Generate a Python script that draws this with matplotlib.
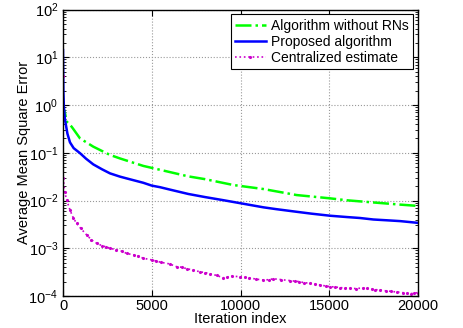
import numpy as np
import matplotlib
matplotlib.use('Agg')
import matplotlib.pyplot as plt
import matplotlib.ticker as ticker

plt.rcParams['font.family'] = ['Liberation Sans', 'DejaVu Sans']
plt.rcParams['mathtext.default'] = 'regular'

# ---------------- data ----------------
it_norn = [0, 50, 113, 208, 490, 958, 1708, 2648, 3211, 4524, 5465, 7060, 8000,
           9594, 11286, 13164, 15042, 16000, 17484, 19000, 20000]
mse_norn = [1.2, 0.8, 0.68, 0.45, 0.35, 0.2, 0.134, 0.09, 0.076, 0.053, 0.044, 0.032, 0.028,
            0.0211, 0.0174, 0.013, 0.0111, 0.0101, 0.0091, 0.0082, 0.0077]

it_prop = [0, 20, 50, 113, 250, 394, 600, 958, 1300, 1708, 2200, 2648, 3211, 3587, 4524,
           5000, 5465, 6000, 7060, 8000, 9000, 9972, 11286, 12000, 13164, 14000, 15042,
           16000, 16732, 17484, 18500, 19000, 20000]
mse_prop = [14, 2.0, 0.9, 0.49, 0.25, 0.165, 0.125, 0.098, 0.075, 0.057, 0.045, 0.037, 0.0316,
            0.029, 0.0235, 0.0205, 0.019, 0.017, 0.0137, 0.0118, 0.0102, 0.0088, 0.0072,
            0.0066, 0.0058, 0.0053, 0.0048, 0.0045, 0.0043, 0.0040, 0.0038, 0.0037, 0.0034]

it_cent = [0, 10, 100, 208, 394, 582, 772, 1000, 1335, 1600, 1899, 2200, 2450, 2648, 3000,
           3300, 3587, 4000, 4250, 4500, 5000, 5250, 5500, 6000, 6404, 6700, 7000, 7350,
           7718, 8000, 8300, 8650, 9031, 9250, 9500, 9972, 10250, 10500, 10900, 11286,
           11600, 11850, 12300, 12789, 13050, 13300, 13600, 13916, 14200, 14500, 14800,
           15042, 15300, 15600, 15900, 16169, 16500, 16920, 17150, 17400, 17600, 17859,
           18200, 18500, 18800, 19174, 19400, 19600, 19800, 20000]
mse_cent = [4.0, 0.03, 0.015, 0.0102, 0.0063, 0.0043, 0.0033, 0.0026, 0.0019, 0.0015,
            0.00127, 0.00113, 0.00106, 0.001, 0.00093, 0.00087, 0.00078, 0.00072, 0.00069,
            0.00062, 0.00057, 0.00054, 0.00051, 0.00047, 0.00041, 0.00040, 0.00037, 0.00035,
            0.00032, 0.00031, 0.00029, 0.00027, 0.00024, 0.00025, 0.00026, 0.000254,
            0.000245, 0.00024, 0.000225, 0.000216, 0.00022, 0.00023, 0.00022, 0.00021,
            0.000205, 0.0002, 0.00019, 0.000185, 0.000178, 0.00017, 0.000162, 0.000157,
            0.000155, 0.00015, 0.000147, 0.000145, 0.000143, 0.000148, 0.000144, 0.00014,
            0.000136, 0.000133, 0.000128, 0.000125, 0.000121, 0.000117, 0.000113, 0.000112,
            0.000115, 0.000118]

# ---------------- figure ----------------
fig = plt.figure(figsize=(4.63, 3.28), dpi=100)
ax = fig.add_axes([63 / 463, 1 - 296 / 328, 355 / 463, 286.5 / 328])

ax.semilogy(it_norn, mse_norn, color='#00ff00', ls='-.', lw=1.8, label='Algorithm without RNs')
ax.semilogy(it_prop, mse_prop, color='#0000ff', lw=1.8, label='Proposed algorithm')
ax.semilogy(it_cent, mse_cent, color='#cc00cc', ls=':', lw=1.2, marker='.', ms=2.5,
            label='Centralized estimate')

ax.set_xlim(0, 20000)
ax.set_ylim(1e-4, 1e2)
ax.xaxis.set_major_locator(ticker.MultipleLocator(5000))
ax.yaxis.set_major_locator(ticker.LogLocator(base=10, numticks=10))
ax.yaxis.set_minor_locator(ticker.LogLocator(base=10, subs=np.arange(2, 10), numticks=10))
ax.yaxis.set_minor_formatter(ticker.NullFormatter())

ax.tick_params(which='both', direction='in', top=True, right=True, labelsize=10.5)
ax.tick_params(axis='x', pad=2)
ax.tick_params(which='major', length=4)
ax.tick_params(which='minor', length=2)
for sp in ax.spines.values():
    sp.set_linewidth(1.0)

ax.grid(True, which='major', ls=':', color='#999999', lw=0.8)
ax.set_xlabel('Iteration index', fontsize=10.5)
ax.set_ylabel('Average Mean Square Error', fontsize=10.5)
ax.xaxis.set_label_coords(0.5, -0.055)
ax.yaxis.set_label_coords(-0.09, 0.5)

leg = ax.legend(loc='upper right', fontsize=10, numpoints=1, fancybox=False,
                framealpha=1, edgecolor='black', handlelength=2.2, borderpad=0.3,
                labelspacing=0.15, handletextpad=0.4, borderaxespad=0.35)
leg.get_frame().set_linewidth(0.8)

fig.savefig('out.png', dpi=100)
